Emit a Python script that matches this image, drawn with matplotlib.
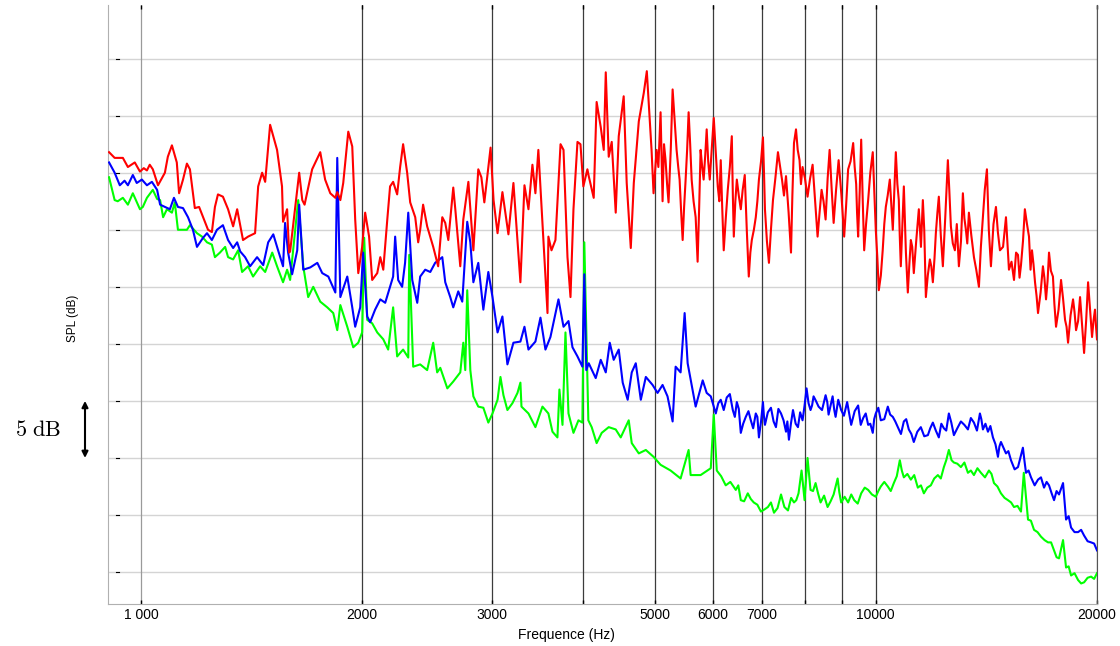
import matplotlib
matplotlib.use("Agg")
import matplotlib.pyplot as plt

plt.rcParams['font.family'] = ['Liberation Sans', 'DejaVu Sans']
plt.rcParams['mathtext.fontset'] = 'cm'

# (frequency in Hz, SPL in dB)
green = [(905, 74.6), (921, 72.6), (930, 72.5), (945, 72.8), (960, 72.2), (975, 73.2), (997, 71.8), (1006, 72.0),
         (1019, 72.8), (1038, 73.5), (1052, 72.7), (1062, 72.6), (1072, 71.1), (1085, 71.8), (1102, 71.5), (1112, 72.4),
         (1123, 70.0), (1155, 70.0), (1166, 70.4), (1192, 69.7), (1211, 69.4), (1230, 68.9), (1249, 68.7), (1261, 67.6),
         (1281, 68.0), (1302, 68.5), (1314, 67.6), (1335, 67.4), (1356, 68.2), (1373, 66.3), (1399, 66.8), (1421, 65.9),
         (1453, 66.8), (1476, 66.3), (1509, 68.0), (1532, 66.8), (1561, 65.4), (1581, 66.5), (1596, 65.6), (1637, 72.6),
         (1663, 66.8), (1689, 64.1), (1716, 65.0), (1754, 63.7), (1793, 63.2), (1827, 62.7), (1850, 61.2), (1868, 63.4),
         (1909, 61.5), (1945, 59.7), (1976, 60.1), (2000, 61.0), (2013, 69.3), (2032, 62.1), (2064, 61.8), (2097, 61.0),
         (2137, 60.4), (2170, 59.5), (2204, 63.2), (2232, 58.9), (2274, 59.5), (2311, 58.8), (2318, 67.8), (2347, 58.0),
         (2399, 58.2), (2452, 57.7), (2499, 60.1), (2530, 57.5), (2555, 57.9), (2612, 56.1), (2661, 56.7), (2720, 57.5),
         (2746, 60.1), (2763, 57.7), (2780, 64.7), (2807, 57.7), (2834, 55.4), (2878, 54.5), (2924, 54.4), (2970, 53.1),
         (3009, 53.9), (3057, 55.1), (3085, 57.1), (3114, 55.5), (3153, 54.2), (3203, 54.8), (3254, 55.7), (3284, 56.6),
         (3295, 54.5), (3368, 53.9), (3442, 52.7), (3519, 54.5), (3585, 53.9), (3631, 52.3), (3688, 51.8), (3711, 56.0),
         (3747, 52.9), (3782, 61.0), (3818, 53.9), (3878, 52.2), (3939, 53.3), (3988, 53.1), (4012, 68.9), (4063, 53.3),
         (4106, 52.7), (4170, 51.3), (4237, 52.2), (4331, 52.7), (4427, 52.5), (4497, 51.8), (4611, 53.3), (4655, 51.3),
         (4759, 50.4), (4865, 50.7), (4984, 50.1), (5095, 49.4), (5257, 48.9), (5425, 48.2), (5563, 50.7), (5598, 48.5),
         (5776, 48.5), (5963, 49.1), (6019, 53.8), (6076, 48.9), (6249, 47.6), (6449, 47.2), (6551, 46.3), (6696, 46.9),
         (6823, 46.1), (6978, 45.3), (7132, 45.7), (7269, 45.2), (7431, 46.8), (7595, 45.4), (7739, 46.1), (7850, 46.9),
         (7925, 48.9), (8000, 46.3), (8075, 50.0), (8150, 47.2), (8281, 47.8), (8412, 46.1), (8598, 45.7), (8763, 46.8),
         (8873, 48.2), (8972, 46.1), (9170, 46.1), (9346, 46.3), (9553, 46.9), (9764, 47.2), (10000, 46.6), (10158, 47.5),
         (10384, 47.5), (10582, 47.8), (10782, 49.8), (10919, 48.3), (11161, 48.1), (11408, 47.4), (11626, 46.9),
         (11882, 47.6), (12147, 48.5), (12378, 49.2), (12573, 50.7), (12773, 49.6), (13056, 49.2), (13347, 48.7),
         (13601, 48.5), (13902, 48.7), (14255, 48.9), (14482, 47.8), (14802, 46.9), (15132, 46.3), (15420, 45.7),
         (15761, 45.3), (15900, 48.7), (16112, 44.6), (16419, 43.7), (16782, 43.1), (17155, 42.6), (17482, 41.9),
         (17756, 41.2), (17981, 42.8), (18152, 40.4), (18439, 39.7), (18848, 39.3), (19207, 39.1), (19632, 39.6),
         (20000, 39.9)]

# finer wiggles of the green trace above 6 kHz
green_fine = [(6160, 48.4), (6340, 47.9), (6500, 47.6), (6620, 46.2), (6760, 46.4), (6900, 45.9), (7060, 45.5),
              (7200, 46.1), (7350, 45.6), (7510, 45.7), (7670, 46.5), (7795, 46.3), (8215, 47.1), (8345, 46.9),
              (8505, 46.7), (8680, 46.2), (8920, 47.0), (9070, 46.6), (9260, 46.8), (9450, 46.0), (9660, 47.4),
              (9880, 46.8), (10080, 47.1), (10270, 47.9), (10480, 47.1), (10680, 48.4), (10850, 48.9),
              (11040, 48.6), (11280, 48.5), (11520, 47.6), (11750, 47.4), (12010, 48.2), (12260, 48.2),
              (12470, 49.8), (12680, 49.8), (12910, 49.5), (13200, 49.6), (13470, 48.9), (13750, 49.1),
              (14080, 48.3), (14370, 48.6), (14640, 47.5), (14970, 46.5), (15280, 46.1), (15590, 45.8),
              (16260, 44.5), (16600, 43.5), (16970, 42.8), (17320, 42.6), (17620, 41.3), (18300, 40.5),
              (18640, 39.9), (19030, 39.0), (19420, 39.5), (19820, 39.4)]

blue = [(905, 75.9), (921, 75.0), (936, 73.9), (950, 74.3), (960, 73.9), (975, 74.8), (987, 74.1), (1003, 74.4),
        (1019, 73.9), (1035, 74.2), (1052, 73.5), (1062, 72.2), (1078, 72.0), (1095, 71.8), (1109, 72.8), (1123, 72.0),
        (1141, 71.9), (1159, 71.1), (1177, 70.0), (1192, 68.5), (1215, 69.3), (1230, 69.7), (1249, 69.1), (1269, 70.0),
        (1293, 70.4), (1314, 69.1), (1335, 68.4), (1352, 68.9), (1365, 68.1), (1386, 67.6), (1408, 66.8), (1439, 67.6),
        (1467, 66.9), (1490, 68.9), (1514, 69.6), (1537, 68.2), (1561, 66.8), (1571, 70.6), (1586, 68.0), (1606, 66.1),
        (1632, 68.2), (1642, 72.2), (1663, 66.5), (1700, 66.7), (1738, 67.1), (1765, 66.2), (1799, 65.9), (1839, 64.5),
        (1850, 76.3), (1868, 64.1), (1909, 65.9), (1939, 63.2), (1957, 61.5), (1988, 63.2), (2006, 68.0), (2032, 62.4),
        (2051, 61.9), (2083, 63.0), (2117, 63.9), (2150, 63.6), (2183, 65.0), (2204, 65.9), (2218, 69.4), (2239, 65.6),
        (2267, 65.0), (2288, 67.1), (2311, 71.5), (2340, 65.6), (2377, 63.6), (2399, 65.9), (2437, 66.5), (2476, 66.3),
        (2514, 67.1), (2571, 67.6), (2595, 65.4), (2636, 64.1), (2661, 63.2), (2703, 64.6), (2737, 63.7), (2780, 70.7),
        (2807, 68.9), (2834, 65.4), (2878, 67.1), (2924, 63.0), (2970, 66.3), (3009, 64.1), (3057, 61.0), (3104, 62.4),
        (3153, 58.2), (3213, 60.1), (3284, 60.2), (3326, 61.5), (3368, 59.5), (3442, 60.2), (3497, 62.3), (3552, 59.5),
        (3608, 60.6), (3700, 63.9), (3759, 61.5), (3818, 62.0), (3866, 59.7), (3927, 58.9), (3988, 58.0), (4012, 66.1),
        (4037, 57.7), (4068, 58.3), (4158, 57.0), (4224, 58.6), (4291, 57.5), (4345, 60.1), (4399, 58.6), (4469, 59.5),
        (4525, 56.6), (4596, 55.1), (4655, 57.5), (4714, 58.3), (4789, 55.1), (4865, 57.1), (4969, 56.4), (5047, 55.7),
        (5127, 56.4), (5207, 55.4), (5291, 53.2), (5341, 58.0), (5425, 57.5), (5494, 62.7), (5546, 58.3), (5616, 56.4),
        (5687, 54.5), (5814, 56.8), (5887, 55.7), (5963, 55.4), (6057, 53.9), (6152, 55.1), (6269, 55.3), (6389, 54.2),
        (6470, 54.9), (6551, 52.2), (6654, 53.6), (6760, 53.3), (6866, 53.9), (6934, 51.8), (7022, 54.9), (7066, 52.9),
        (7200, 54.4), (7314, 52.7), (7431, 53.9), (7548, 52.3), (7617, 51.6), (7715, 54.2), (7836, 52.7), (7950, 53.3),
        (8050, 56.1), (8151, 54.2), (8229, 55.4), (8359, 54.5), (8545, 55.5), (8625, 53.8), (8735, 55.4), (8817, 53.6),
        (8972, 54.2), (9142, 54.9), (9258, 52.9), (9462, 54.6), (9613, 53.5), (9764, 52.9), (9906, 52.2), (10000, 53.9),
        (10158, 53.3), (10384, 54.5), (10548, 53.6), (10715, 52.7), (10919, 53.2), (11090, 52.5), (11265, 51.4),
        (11516, 52.7), (11773, 52.0), (11958, 53.1), (12184, 51.8), (12378, 52.6), (12573, 53.9), (12773, 52.0),
        (13056, 53.2), (13347, 52.5), (13601, 53.1), (13858, 53.9), (13989, 52.5), (14211, 52.3), (14435, 51.8),
        (14664, 50.1), (14802, 51.4), (15037, 50.4), (15275, 49.8), (15614, 49.2), (15856, 50.9), (16011, 48.7),
        (16264, 48.3), (16625, 48.1), (16942, 47.4), (17208, 47.6), (17482, 46.3), (17756, 46.8), (17981, 47.8),
        (18152, 44.6), (18439, 43.9), (18848, 43.5), (19207, 43.2), (19632, 42.6), (20000, 41.9)]

# finer wiggles of the blue trace above 6 kHz
blue_fine = [(6105, 54.8), (6210, 54.2), (6330, 55.6), (6430, 53.6), (6510, 54.3), (6600, 53.0), (6710, 54.1),
             (6810, 52.6), (6900, 53.6), (6980, 53.2), (7045, 53.6), (7130, 54.0), (7260, 53.2), (7370, 54.3),
             (7490, 53.3), (7580, 53.2), (7665, 53.0), (7780, 53.0), (7890, 54.0), (8000, 54.6), (8100, 54.8),
             (8190, 54.6), (8290, 55.0), (8450, 54.2), (8590, 54.9), (8680, 54.6), (8780, 54.2), (8890, 55.1),
             (9050, 53.7), (9200, 53.9), (9360, 54.1), (9540, 52.9), (9690, 53.9), (9830, 53.0), (9950, 53.4),
             (10080, 54.4), (10270, 53.4), (10460, 53.8), (10630, 53.2), (10820, 52.1), (11000, 53.4), (11180, 52.1),
             (11390, 52.3), (11640, 51.9), (11860, 52.6), (12070, 52.4), (12280, 53.0), (12470, 52.4), (12670, 53.1),
             (12910, 52.6), (13200, 52.9), (13470, 53.5), (13730, 52.4), (13920, 53.4), (14100, 53.0), (14320, 52.8),
             (14550, 51.2), (14730, 51.0), (14920, 50.9), (15150, 50.6), (15450, 49.0), (15730, 50.0), (15930, 49.8),
             (16140, 48.9), (16450, 47.6), (16780, 48.3), (17080, 47.9), (17350, 46.9), (17620, 47.1), (18300, 44.9),
             (18640, 43.5), (19030, 43.7), (19420, 42.7), (19820, 42.5)]

red = [(905, 76.8), (921, 76.3), (945, 76.3), (960, 75.5), (981, 75.9), (997, 75.1), (1009, 75.4), (1019, 75.2),
       (1028, 75.7), (1038, 75.3), (1055, 73.9), (1078, 75.0), (1088, 76.4), (1102, 77.4), (1119, 75.9), (1127, 73.2),
       (1141, 74.4), (1155, 75.8), (1166, 75.3), (1184, 71.9), (1200, 72.0), (1215, 71.1), (1234, 70.0), (1249, 69.8),
       (1261, 72.0), (1273, 73.1), (1293, 72.9), (1314, 71.8), (1335, 70.3), (1352, 71.8), (1365, 70.4), (1377, 69.1),
       (1399, 69.4), (1430, 69.7), (1444, 73.8), (1462, 75.0), (1476, 74.2), (1499, 79.2), (1514, 78.2), (1532, 77.0),
       (1556, 73.8), (1561, 70.7), (1581, 71.8), (1591, 68.0), (1596, 68.1), (1642, 75.0), (1658, 72.6), (1670, 72.2),
       (1710, 75.3), (1754, 76.8), (1781, 74.4), (1810, 73.2), (1839, 72.8), (1850, 73.3), (1868, 72.6), (1885, 74.1),
       (1915, 78.6), (1939, 77.3), (1957, 70.9), (1976, 66.2), (2000, 68.5), (2019, 71.5), (2044, 69.4), (2064, 65.6),
       (2097, 66.2), (2117, 67.6), (2137, 66.5), (2164, 70.9), (2183, 73.8), (2204, 74.2), (2232, 73.1), (2253, 75.5),
       (2274, 77.5), (2303, 75.0), (2325, 72.4), (2362, 71.1), (2384, 68.9), (2399, 70.0), (2421, 72.2), (2452, 70.3),
       (2499, 68.5), (2538, 66.8), (2571, 71.1), (2595, 70.6), (2620, 69.1), (2661, 73.7), (2678, 71.8), (2720, 66.8),
       (2746, 70.9), (2790, 74.2), (2834, 68.2), (2878, 75.3), (2906, 74.6), (2933, 72.4), (2991, 77.2), (3019, 72.6),
       (3057, 69.7), (3104, 73.3), (3163, 69.6), (3213, 74.1), (3284, 65.4), (3326, 73.9), (3368, 71.8), (3410, 75.7),
       (3442, 73.2), (3474, 77.0), (3541, 67.4), (3575, 62.7), (3585, 69.4), (3620, 68.2), (3665, 69.1), (3724, 77.5),
       (3759, 77.0), (3806, 67.6), (3842, 64.1), (3878, 71.8), (3927, 77.7), (3964, 77.5), (4000, 73.8), (4051, 75.3),
       (4068, 74.7), (4132, 72.8), (4170, 81.2), (4224, 79.0), (4264, 77.0), (4291, 83.8), (4331, 76.4), (4372, 77.7),
       (4427, 71.5), (4469, 78.2), (4539, 81.7), (4582, 74.1), (4641, 68.4), (4685, 74.1), (4759, 79.5), (4834, 82.0),
       (4880, 83.9), (4953, 77.0), (4984, 73.2), (5032, 77.0), (5095, 80.3), (5127, 72.5), (5175, 76.1), (5224, 72.4),
       (5291, 82.3), (5357, 77.0), (5408, 74.4), (5460, 69.1), (5511, 74.4), (5563, 80.3), (5616, 74.4), (5687, 71.1),
       (5722, 67.2), (5776, 77.0), (5831, 74.4), (5887, 78.8), (5944, 74.4), (6019, 79.8), (6095, 73.8), (6152, 76.1),
       (6210, 68.2), (6289, 73.5), (6369, 78.2), (6409, 69.4), (6470, 74.4), (6551, 71.8), (6633, 74.8), (6717, 65.9),
       (6781, 69.1), (6866, 71.1), (6934, 74.4), (7022, 78.1), (7066, 71.8), (7155, 67.1), (7246, 72.6), (7360, 76.8),
       (7454, 74.4), (7548, 74.7), (7667, 68.0), (7739, 77.6), (7788, 78.8), (7875, 76.1), (7950, 75.5), (8075, 72.9),
       (8204, 75.7), (8333, 69.4), (8438, 73.5), (8545, 70.9), (8653, 77.0), (8763, 70.6), (8901, 76.1), (9057, 69.4),
       (9170, 75.3), (9316, 77.6), (9404, 74.0), (9462, 69.4), (9553, 77.9), (9643, 68.2), (9764, 72.6), (9906, 76.8),
       (10000, 70.0), (10095, 64.7), (10219, 68.2), (10319, 72.0), (10449, 74.4), (10548, 70.0), (10648, 76.8),
       (10748, 72.6), (10816, 66.8), (10919, 73.8), (11056, 64.5), (11161, 69.1), (11265, 66.2), (11444, 71.8),
       (11589, 72.6), (11699, 64.1), (11847, 67.4), (11958, 65.4), (12071, 69.7), (12184, 72.9), (12339, 66.8),
       (12534, 76.1), (12653, 70.3), (12813, 68.2), (12974, 66.8), (13138, 73.2), (13263, 70.0), (13388, 71.5),
       (13601, 67.6), (13815, 65.0), (13989, 71.1), (14166, 75.3), (14345, 66.8), (14572, 72.0), (14756, 68.2),
       (15037, 71.1), (15178, 66.5), (15420, 65.6), (15614, 67.8), (15761, 66.9), (15954, 71.8), (16162, 69.4),
       (16314, 68.2), (16470, 65.4), (16625, 62.7), (16883, 66.8), (17048, 63.9), (17208, 68.0), (17421, 65.9),
       (17591, 61.5), (17869, 65.6), (18095, 62.1), (18266, 60.1), (18554, 63.9), (18730, 61.2), (18966, 64.1),
       (19207, 59.2), (19449, 65.4), (19692, 60.6), (19874, 63.0), (20000, 60.4)]

# finer wiggles of the red trace above 5 kHz
red_fine = [(5060, 75.5), (5150, 77.5), (5200, 74.0), (5260, 77.0), (5325, 79.5), (5385, 75.5), (5435, 71.5),
            (5485, 72.0), (5537, 77.0), (5590, 77.5), (5650, 72.5), (5750, 72.0), (5805, 75.5), (5860, 76.5),
            (5915, 76.0), (5980, 77.0), (6060, 76.5), (6125, 72.5), (6180, 72.0), (6250, 71.0), (6330, 75.5),
            (6390, 73.0), (6440, 72.5), (6510, 73.0), (6590, 73.5), (6675, 70.0), (6750, 68.0), (6825, 70.0),
            (6900, 72.5), (6980, 76.0), (7045, 75.0), (7110, 69.0), (7200, 70.0), (7300, 74.5), (7410, 75.5),
            (7500, 73.0), (7610, 71.5), (7700, 73.0), (7830, 77.0), (7910, 74.0), (8010, 74.5), (8140, 74.5),
            (8270, 72.5), (8385, 71.5), (8490, 72.5), (8600, 74.5), (8710, 73.5), (8830, 73.5), (8980, 73.0),
            (9110, 72.0), (9240, 76.0), (9360, 75.5), (9430, 71.5), (9510, 73.5), (9600, 72.5), (9700, 70.5),
            (9830, 75.0), (9950, 73.5), (10050, 67.5), (10160, 66.0), (10270, 70.5), (10380, 73.0), (10500, 72.2),
            (10600, 73.5), (10700, 74.0), (10780, 69.5), (10870, 70.5), (10990, 68.0), (11110, 67.0),
            (11210, 68.5), (11350, 69.0), (11520, 68.5), (11640, 70.0), (11770, 66.0), (11900, 66.8),
            (12020, 67.5), (12130, 71.5), (12260, 69.5), (12430, 71.0), (12590, 73.5), (12730, 68.8),
            (12890, 70.5), (13060, 69.0), (13200, 71.0), (13320, 68.8), (13490, 69.5), (13700, 66.5),
            (13900, 68.5), (14070, 73.5), (14250, 70.0), (14460, 70.5), (14660, 69.8), (14900, 68.5),
            (15100, 69.0), (15300, 67.2), (15520, 68.0), (15690, 65.8), (15860, 69.0), (16060, 70.5),
            (16240, 66.5), (16390, 67.0), (16550, 64.2), (16760, 64.5), (16960, 65.8), (17130, 65.5),
            (17310, 66.4), (17500, 63.5), (17730, 63.0), (17980, 64.0), (18180, 61.5), (18410, 62.5),
            (18640, 62.8), (18850, 62.0), (19090, 61.5), (19330, 62.0), (19570, 63.0), (19780, 62.0),
            (19940, 61.5)]

vlines_hz = [1000, 2000, 3000, 4000, 5000, 6000, 7000, 8000, 9000, 10000, 20000]
tick_labels = ['1 000', '2000', '3000', '', '5000', '6000', '7000', '', '', '10000', '20000']
grid_db = [40, 45, 50, 55, 60, 65, 70, 75, 80, 85]

fig = plt.figure(figsize=(11.2, 6.46), dpi=100)
ax = fig.add_axes([108 / 1120, 1 - 604 / 646, (1097 - 108) / 1120, (604 - 5) / 646])

ax.set_xscale('log')
ax.set_xlim(902, 20000)
ax.set_ylim(37.2, 89.7)

# grid
for g in grid_db:
    ax.axhline(g, color='#d4d4d4', lw=1.0, zorder=0)
    ax.plot([0.008, 0.011], [g, g], color='black', lw=0.8, transform=ax.get_yaxis_transform())
for f in vlines_hz:
    c = '#9a9a9a' if f == 1000 else '#3c3c3c'
    ax.axvline(f, color=c, lw=0.9, zorder=1)

# curves: green under blue under red
series = [(sorted(green + green_fine), '#00ff00'),
          (sorted(blue + blue_fine), '#0000ff'),
          (sorted(red + red_fine), '#ff0000')]
for data, col in series:
    hz = [p[0] for p in data]
    db = [p[1] for p in data]
    ax.plot(hz, db, color=col, lw=1.5, zorder=3)

ax.set_xticks(vlines_hz)
ax.set_xticklabels(tick_labels, fontsize=10)
ax.xaxis.set_minor_locator(matplotlib.ticker.NullLocator())
ax.tick_params(axis='x', direction='in', length=3, width=1, pad=3, color='black', top=True)
ax.set_yticks(grid_db)
ax.set_yticklabels([])
ax.tick_params(axis='y', length=0)

ax.spines['top'].set_visible(False)
ax.spines['left'].set_color('#b0b0b0')
ax.spines['bottom'].set_color('#b0b0b0')
ax.spines['right'].set_color('#555555')

fig.text(566 / 1120, 1 - 635 / 646, 'Frequence (Hz)', fontsize=10, ha='center', va='center')
fig.text(73 / 1120, 1 - 318 / 646, 'SPL (dB)', fontsize=8.5, rotation=90, ha='center', va='center')
fig.text(38 / 1120, 1 - 430 / 646, r'$5\ \mathrm{dB}$', fontsize=16, ha='center', va='center')

ax.annotate('', xy=(85 / 1120, 50), xytext=(85 / 1120, 55),
            xycoords=('figure fraction', 'data'), textcoords=('figure fraction', 'data'),
            arrowprops=dict(arrowstyle='<|-|>', color='black', lw=1.5, shrinkA=0, shrinkB=0,
                            mutation_scale=9),
            annotation_clip=False)

fig.savefig('out.png', dpi=100)
